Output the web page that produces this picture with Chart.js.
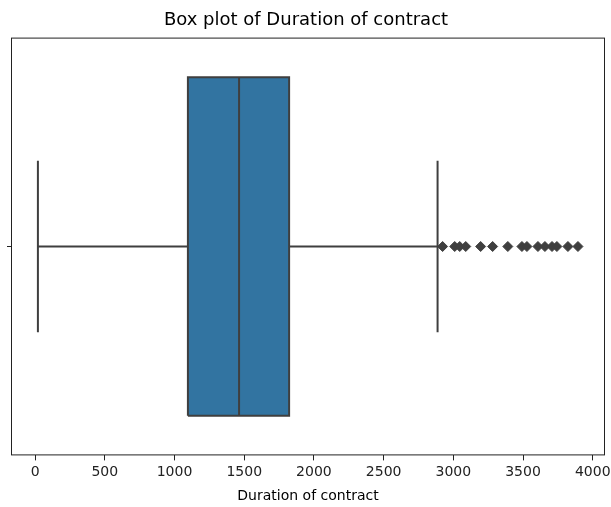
<!DOCTYPE html>
<html>
<head>
<meta charset="utf-8">
<script src="https://cdn.jsdelivr.net/npm/chart.js@4/dist/chart.umd.min.js"></script>
<style>
  html, body { margin: 0; padding: 0; background: #fff; }
  #wrap { width: 611px; height: 507px; position: relative; }
</style>
</head>
<body>
<div id="wrap"><canvas id="chart"></canvas></div>
<script>
// box plot summary of "Duration of contract"
const whiskerLow = 20;
const q1 = 1096;
const median = 1463;
const q3 = 1822;
const whiskerHigh = 2887;
const outliers = [2923, 3010, 3046, 3089, 3196, 3282, 3391, 3492, 3528, 3607, 3657, 3708, 3743, 3822, 3894];
const xTicks = [0, 500, 1000, 1500, 2000, 2500, 3000, 3500, 4000];

const boxColor = '#3274a1';
const lineColor = '#3f3f3f';
const boxHalf = 0.405;
const capHalf = 0.205;

const frame = {
  id: 'frame',
  afterDraw(chart) {
    const { ctx, chartArea: a } = chart;
    ctx.save();
    ctx.strokeStyle = '#222';
    ctx.lineWidth = 1;
    ctx.strokeRect(a.left + 0.5, a.top + 0.5, a.right - a.left - 1, a.bottom - a.top - 1);
    ctx.restore();
  }
};

const seg = (pts) => ({
  data: pts,
  showLine: true,
  borderColor: lineColor,
  borderWidth: 2,
  pointRadius: 0,
  fill: false
});

const ctx = document.getElementById('chart').getContext('2d');
new Chart(ctx, {
  type: 'scatter',
  data: {
    datasets: [
      seg([{ x: median, y: -boxHalf }, { x: median, y: boxHalf }]),
      seg([{ x: whiskerLow, y: 0 }, { x: q1, y: 0 }]),
      seg([{ x: q3, y: 0 }, { x: whiskerHigh, y: 0 }]),
      seg([{ x: whiskerLow, y: -capHalf }, { x: whiskerLow, y: capHalf }]),
      seg([{ x: whiskerHigh, y: -capHalf }, { x: whiskerHigh, y: capHalf }]),
      // outliers
      {
        data: outliers.map(v => ({ x: v, y: 0 })),
        pointStyle: 'rectRot',
        pointRadius: 5,
        backgroundColor: lineColor,
        borderColor: lineColor,
        borderWidth: 1
      },
      // box (last so it is drawn underneath)
      {
        data: [
          { x: q1, y: -boxHalf }, { x: q3, y: -boxHalf },
          { x: q3, y: boxHalf }, { x: q1, y: boxHalf }, { x: q1, y: -boxHalf }
        ],
        showLine: true,
        borderColor: lineColor,
        borderWidth: 2,
        backgroundColor: boxColor,
        pointRadius: 0,
        fill: 'shape'
      }
    ]
  },
  options: {
    responsive: true,
    maintainAspectRatio: false,
    animation: false,
    layout: { padding: { left: 7, right: 6, top: 0, bottom: 2 } },
    plugins: {
      legend: { display: false },
      tooltip: { enabled: false },
      title: {
        display: true,
        text: 'Box plot of Duration of contract',
        color: '#000',
        font: { family: 'DejaVu Sans', size: 18, weight: 'normal' },
        padding: { top: 10, bottom: 6 }
      }
    },
    scales: {
      x: {
        type: 'linear',
        min: -173,
        max: 4088,
        afterBuildTicks: (axis) => { axis.ticks = xTicks.map(v => ({ value: v })); },
        // let the last label hang past the frame like the original
        afterFit: (axis) => { axis.paddingRight = 0; axis.paddingLeft = 0; },
        grid: { drawOnChartArea: false, tickLength: 5, color: '#222' },
        border: { display: false },
        ticks: {
          color: '#222',
          padding: 4,
          maxRotation: 0,
          autoSkip: false,
          callback: (v) => String(v),
          font: { family: 'DejaVu Sans', size: 14 }
        },
        title: {
          display: true,
          text: 'Duration of contract',
          color: '#000',
          font: { family: 'DejaVu Sans', size: 14 },
          padding: { top: 3, bottom: 0 }
        }
      },
      y: {
        type: 'linear',
        min: -0.5,
        max: 0.5,
        afterBuildTicks: (axis) => { axis.ticks = [{ value: 0 }]; },
        grid: { drawOnChartArea: false, tickLength: 4, color: '#222' },
        border: { display: false },
        ticks: { callback: () => '', padding: 0 }
      }
    }
  },
  plugins: [frame]
});
</script>
</body>
</html>
